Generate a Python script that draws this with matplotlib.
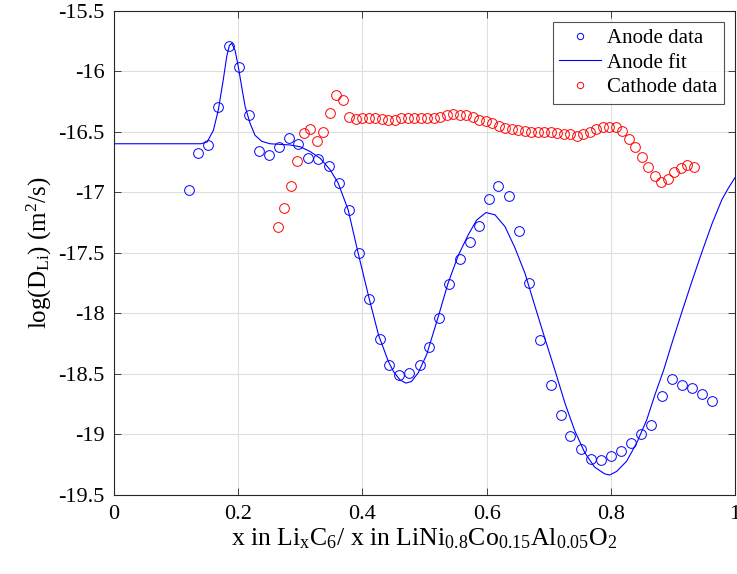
import matplotlib
matplotlib.use('Agg')
import matplotlib.pyplot as plt
import numpy as np

# anode (graphite) diffusion data
anode_x = [0.120, 0.136, 0.152, 0.168, 0.185, 0.201, 0.217, 0.233, 0.250, 0.266,
           0.281, 0.297, 0.313, 0.329, 0.346, 0.362, 0.378, 0.395, 0.411, 0.428,
           0.443, 0.459, 0.475, 0.492, 0.508, 0.524, 0.540, 0.557, 0.573, 0.588,
           0.604, 0.619, 0.636, 0.652, 0.668, 0.686, 0.703, 0.719, 0.735, 0.752,
           0.768, 0.784, 0.800, 0.816, 0.833, 0.849, 0.865, 0.882, 0.898, 0.914,
           0.931, 0.947, 0.963]
anode_y = [-16.98, -16.68, -16.61, -16.30, -15.79, -15.97, -16.36, -16.66, -16.69, -16.63,
           -16.55, -16.60, -16.72, -16.73, -16.78, -16.92, -17.15, -17.50, -17.88, -18.21,
           -18.43, -18.51, -18.49, -18.43, -18.28, -18.04, -17.76, -17.55, -17.41, -17.28,
           -17.06, -16.95, -17.03, -17.32, -17.75, -18.22, -18.59, -18.84, -19.01, -19.12,
           -19.20, -19.21, -19.18, -19.14, -19.07, -19.00, -18.92, -18.68, -18.54, -18.59,
           -18.62, -18.67, -18.72]

# fitted anode curve
fit_x = [0.000, 0.100, 0.140, 0.150, 0.160, 0.168, 0.176, 0.1815, 0.1857, 0.1895,
         0.195, 0.200, 0.2056, 0.211, 0.219, 0.227, 0.238, 0.251, 0.283, 0.300,
         0.316, 0.332, 0.348, 0.361, 0.377, 0.393, 0.410, 0.426, 0.442, 0.450,
         0.4605, 0.470, 0.479, 0.490, 0.5035, 0.522, 0.538, 0.5545, 0.5706, 0.584,
         0.599, 0.6135, 0.6296, 0.6457, 0.6618, 0.678, 0.694, 0.710, 0.726, 0.742,
         0.758, 0.774, 0.790, 0.798, 0.8095, 0.8256, 0.8417, 0.8578, 0.8712, 0.885,
         0.900, 0.915, 0.931, 0.947, 0.963, 0.979, 0.990, 1.000]
fit_y = [-16.60, -16.60, -16.60, -16.585, -16.49, -16.32, -16.07, -15.88, -15.79, -15.77,
         -15.83, -15.96, -16.13, -16.29, -16.43, -16.53, -16.58, -16.60, -16.61, -16.625,
         -16.665, -16.72, -16.815, -16.925, -17.145, -17.50, -17.86, -18.18, -18.40, -18.48,
         -18.55, -18.576, -18.563, -18.49, -18.34, -18.03, -17.75, -17.52, -17.35, -17.23,
         -17.168, -17.187, -17.284, -17.46, -17.67, -17.944, -18.21, -18.47, -18.74, -18.97,
         -19.15, -19.27, -19.325, -19.335, -19.305, -19.22, -19.07, -18.88, -18.67, -18.47,
         -18.22, -17.98, -17.73, -17.49, -17.26, -17.06, -16.96, -16.88]

# cathode (NCA) diffusion data
cathode_x = [0.2636 + 0.01047 * i for i in range(65)]
cathode_y = [-17.29, -17.13, -16.95, -16.74, -16.51, -16.48, -16.58, -16.50, -16.35, -16.20,
             -16.24, -16.38, -16.395, -16.385, -16.385, -16.39, -16.395, -16.40, -16.40, -16.39,
             -16.385, -16.385, -16.385, -16.39, -16.387, -16.376, -16.362, -16.356, -16.36, -16.365,
             -16.38, -16.40, -16.414, -16.43, -16.45, -16.467, -16.478, -16.488, -16.494, -16.502,
             -16.501, -16.505, -16.507, -16.511, -16.516, -16.523, -16.532, -16.521, -16.501, -16.479,
             -16.46, -16.46, -16.462, -16.498, -16.563, -16.63, -16.713, -16.788, -16.869, -16.913,
             -16.888, -16.833, -16.802, -16.776, -16.796]

x_ticks = [0, 0.2, 0.4, 0.6, 0.8, 1]
x_tick_labels = ['0', '0.2', '0.4', '0.6', '0.8', '1']
y_ticks = [-19.5, -19, -18.5, -18, -17.5, -17, -16.5, -16, -15.5]
y_tick_labels = ['-19.5', '-19', '-18.5', '-18', '-17.5', '-17', '-16.5', '-16', '-15.5']

plt.rcParams['font.family'] = ['Liberation Serif', 'DejaVu Serif']
plt.rcParams['mathtext.fontset'] = 'custom'
plt.rcParams['mathtext.rm'] = 'Liberation Serif'
plt.rcParams['mathtext.it'] = 'Liberation Serif'

fig = plt.figure(figsize=(7.37, 5.74), dpi=100)
ax = fig.add_axes([0.1547, 0.1376, 0.8426, 0.8441])

ax.plot(anode_x, anode_y, 'o', color='#0000ff', markerfacecolor='none',
        markersize=7, markeredgewidth=0.7, label='Anode data')
ax.plot(fit_x, fit_y, '-', color='#0000ff', linewidth=0.8, label='Anode fit')
ax.plot(cathode_x, cathode_y, 'o', color='#ff0000', markerfacecolor='none',
        markersize=7, markeredgewidth=0.7, label='Cathode data')

ax.set_xlim(0, 1)
ax.set_ylim(-19.5, -15.5)
ax.set_xticks(x_ticks)
ax.set_xticklabels(x_tick_labels)
ax.set_yticks(y_ticks)
ax.set_yticklabels(y_tick_labels)
ax.tick_params(direction='in', top=True, right=True, labelsize=16,
               length=5, width=0.6, color='#262626')
ax.tick_params(axis='x', pad=7)
ax.tick_params(axis='y', pad=7)
ax.grid(True, color='#dedede', linewidth=0.8)
ax.set_axisbelow(True)
for s in ax.spines.values():
    s.set_color('#262626')
    s.set_linewidth(0.8)

ax.set_xlabel(r'x in Li$_{\mathrm{x}}$C$_{6}$/ x in LiNi$_{0.8}$Co$_{0.15}$Al$_{0.05}$O$_{2}$',
              fontsize=18.5, labelpad=2)
ax.set_ylabel(r'log(D$_{\mathrm{Li}}$) (m$^{2}$/s)', fontsize=18, labelpad=3)

leg = ax.legend(loc='upper right', fontsize=15, frameon=True, fancybox=False,
                borderaxespad=0.55, handlelength=2.0, handletextpad=0.3,
                borderpad=0.3, labelspacing=0.25, markerscale=0.65)
leg.get_frame().set_edgecolor('#262626')
leg.get_frame().set_linewidth(0.8)

fig.savefig('out.png', dpi=100)
